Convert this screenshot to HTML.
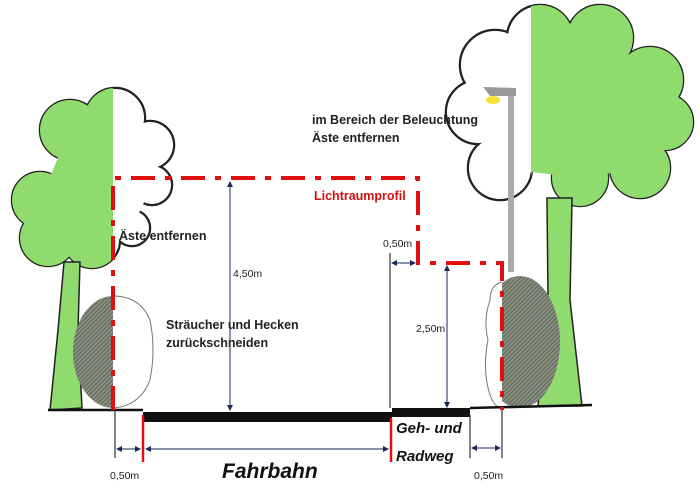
<!DOCTYPE html>
<html><head><meta charset="utf-8"><style>
html,body{margin:0;padding:0;background:#fff;width:700px;height:485px;overflow:hidden}
svg{display:block}
text{font-family:"Liberation Sans",sans-serif}
</style></head><body>
<svg width="700" height="485" viewBox="0 0 700 485" xmlns="http://www.w3.org/2000/svg">
<defs>
<pattern id="h" width="3" height="3" patternUnits="userSpaceOnUse" patternTransform="rotate(45)">
<rect width="3" height="3" fill="#8a9080"/><line x1="0" y1="0" x2="0" y2="3" stroke="#4a4e48" stroke-width="1.4"/>
</pattern>
<marker id="a" markerWidth="6" markerHeight="6" refX="5" refY="3" orient="auto" markerUnits="userSpaceOnUse"><path d="M0,0 L6,3 L0,6z" fill="#1a2a5a"/></marker>
<marker id="b" markerWidth="6" markerHeight="6" refX="1" refY="3" orient="auto" markerUnits="userSpaceOnUse"><path d="M6,0 L0,3 L6,6z" fill="#1a2a5a"/></marker>
<clipPath id="lc"><circle cx="40" cy="200" r="28"/><circle cx="70" cy="130" r="30"/><circle cx="115" cy="118" r="30"/><circle cx="150" cy="145" r="24"/><circle cx="152" cy="185" r="20"/><circle cx="48" cy="238" r="28"/><circle cx="92" cy="240" r="28"/><circle cx="132" cy="228" r="18"/><polygon points="70,130 115,118 150,145 152,185 132,228 92,240 48,238 40,200"/></clipPath>
<clipPath id="rc"><circle cx="495" cy="65" r="35"/><circle cx="540" cy="38" r="33"/><circle cx="600" cy="38" r="33"/><circle cx="650" cy="80" r="33"/><circle cx="665" cy="122" r="28"/><circle cx="640" cy="168" r="30"/><circle cx="580" cy="178" r="28"/><circle cx="500" cy="168" r="32"/><circle cx="478" cy="112" r="32"/><polygon points="495,65 540,38 600,38 650,80 665,122 640,168 580,178 500,168 478,112"/></clipPath>
<clipPath id="lb"><ellipse cx="113" cy="352" rx="40" ry="56"/></clipPath>
<clipPath id="rb"><ellipse cx="520" cy="342" rx="40" ry="66"/></clipPath>
</defs>
<!-- left tree crown -->
<g stroke="#222" stroke-width="2.5" fill="#fff"><circle cx="40" cy="200" r="28"/><circle cx="70" cy="130" r="30"/><circle cx="115" cy="118" r="30"/><circle cx="150" cy="145" r="24"/><circle cx="152" cy="185" r="20"/><circle cx="48" cy="238" r="28"/><circle cx="92" cy="240" r="28"/><circle cx="132" cy="228" r="18"/></g>
<g fill="#fff"><circle cx="40" cy="200" r="27"/><circle cx="70" cy="130" r="29"/><circle cx="115" cy="118" r="29"/><circle cx="150" cy="145" r="23"/><circle cx="152" cy="185" r="19"/><circle cx="48" cy="238" r="27"/><circle cx="92" cy="240" r="27"/><circle cx="132" cy="228" r="17"/><polygon points="70,130 115,118 150,145 152,185 132,228 92,240 48,238 40,200"/></g>
<rect x="0" y="80" width="113" height="200" fill="#8fdb6e" clip-path="url(#lc)"/>
<path d="M64,262 L80,262 L78,330 L82,408 L50,410 L58,330z" fill="#8fdb6e" stroke="#222" stroke-width="1.5"/>
<!-- left bush -->
<rect x="70" y="295" width="43" height="115" fill="url(#h)" clip-path="url(#lb)"/>
<path d="M113,296 Q140,296 150,320 Q156,350 150,380 Q140,406 113,408" fill="none" stroke="#777" stroke-width="1"/>
<!-- right tree -->
<g stroke="#222" stroke-width="2.5" fill="#fff"><circle cx="495" cy="65" r="35"/><circle cx="540" cy="38" r="33"/><circle cx="600" cy="38" r="33"/><circle cx="650" cy="80" r="33"/><circle cx="665" cy="122" r="28"/><circle cx="640" cy="168" r="30"/><circle cx="580" cy="178" r="28"/><circle cx="500" cy="168" r="32"/><circle cx="478" cy="112" r="32"/></g>
<g fill="#fff"><circle cx="495" cy="65" r="34"/><circle cx="540" cy="38" r="32"/><circle cx="600" cy="38" r="32"/><circle cx="650" cy="80" r="32"/><circle cx="665" cy="122" r="27"/><circle cx="640" cy="168" r="29"/><circle cx="580" cy="178" r="27"/><circle cx="500" cy="168" r="31"/><circle cx="478" cy="112" r="31"/><polygon points="495,65 540,38 600,38 650,80 665,122 640,168 580,178 500,168 478,112"/></g>
<rect x="531" y="0" width="170" height="220" fill="#8fdb6e" clip-path="url(#rc)"/>
<path d="M547,198 L572,198 L570,300 L582,406 L538,406 L548,300z" fill="#8fdb6e" stroke="#222" stroke-width="1.5"/>
<!-- lamp -->
<rect x="508" y="94" width="6" height="178" fill="#aaa"/>
<path d="M483,87 L516,88 L516,96 L490,96 Z" fill="#999"/>
<ellipse cx="493" cy="100" rx="7" ry="4" fill="#f5e23a"/>
<!-- right bush -->
<rect x="502" y="272" width="60" height="140" fill="url(#h)" clip-path="url(#rb)"/>
<path d="M502,282 Q490,285 490,300 Q483,320 488,340 Q482,370 490,395 Q495,408 502,408" fill="none" stroke="#777" stroke-width="1"/>
<!-- ground -->
<line x1="48" y1="410" x2="143" y2="410" stroke="#111" stroke-width="2.5"/>
<rect x="143" y="412" width="249" height="10" fill="#111"/>
<rect x="392" y="408" width="78" height="9" fill="#111"/>
<line x1="470" y1="408" x2="592" y2="405" stroke="#111" stroke-width="2.5"/>
<!-- profile -->
<path d="M113,410 L113,178 L418,178 L418,263 L502,263 L502,410" fill="none" stroke="#e01010" stroke-width="4" stroke-dasharray="24,10,6,10"/>
<!-- dims -->
<g stroke="#1a2a5a" stroke-width="1" fill="none">
<line x1="230" y1="182" x2="230" y2="410" marker-start="url(#b)" marker-end="url(#a)"/>
<line x1="447" y1="266" x2="447" y2="407" marker-start="url(#b)" marker-end="url(#a)"/>
<line x1="392" y1="263" x2="415" y2="263" marker-start="url(#b)" marker-end="url(#a)"/>
<line x1="117" y1="449" x2="140" y2="449" marker-start="url(#b)" marker-end="url(#a)"/>
<line x1="146" y1="449" x2="388" y2="449" marker-start="url(#b)" marker-end="url(#a)"/>
<line x1="472" y1="448" x2="500" y2="448" marker-start="url(#b)" marker-end="url(#a)"/>
</g>
<g stroke="#333" stroke-width="1.2">
<line x1="390" y1="253" x2="390" y2="408"/><line x1="115" y1="410" x2="115" y2="458"/>
<line x1="470" y1="415" x2="470" y2="458"/><line x1="502" y1="410" x2="502" y2="458"/>
</g>
<g stroke="#e01010" stroke-width="2.5"><line x1="143" y1="415" x2="143" y2="462"/><line x1="391" y1="418" x2="391" y2="462"/></g>
<!-- labels -->
<g font-size="12.5" font-weight="bold" fill="#222">
<text x="312" y="124">im Bereich der Beleuchtung</text>
<text x="312" y="142">Äste entfernen</text>
<text x="119" y="240">Äste entfernen</text>
<text x="166" y="329">Sträucher und Hecken</text>
<text x="166" y="347">zurückschneiden</text>
</g>
<text x="314" y="200" font-size="12.5" font-weight="bold" fill="#d01010">Lichtraumprofil</text>
<g font-size="10.5" fill="#222">
<text x="233" y="277">4,50m</text><text x="416" y="332">2,50m</text>
<text x="383" y="247">0,50m</text><text x="110" y="479">0,50m</text><text x="474" y="479">0,50m</text>
</g>
<text x="222" y="478" font-size="21" font-weight="bold" font-style="italic" fill="#111">Fahrbahn</text>
<text x="396" y="433" font-size="15" font-weight="bold" font-style="italic" fill="#111">Geh- und</text>
<text x="396" y="461" font-size="15" font-weight="bold" font-style="italic" fill="#111">Radweg</text>
</svg>
</body></html>
